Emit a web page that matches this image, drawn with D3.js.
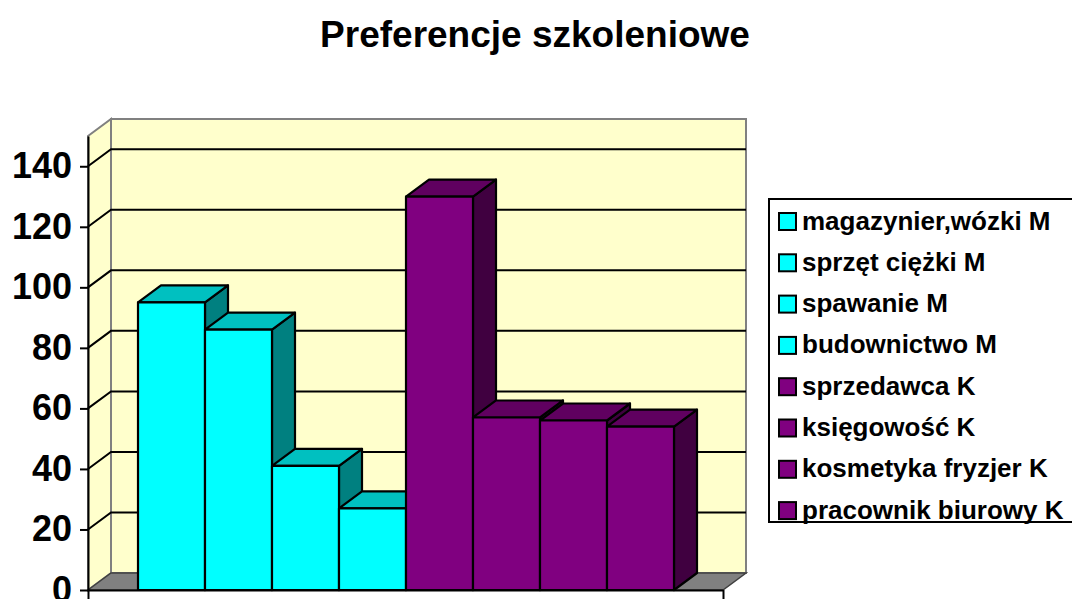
<!DOCTYPE html>
<html>
<head>
<meta charset="utf-8">
<script src="https://cdn.jsdelivr.net/npm/d3@7"></script>
<style>
  body { margin: 0; background: #fff; }
  svg { display: block; font-family: "Liberation Sans", Arial, sans-serif; }
</style>
</head>
<body>
<div class="chart"></div>
<script>
const categories = [
    'magazynier,wózki M', 'sprzęt ciężki M', 'spawanie M', 'budownictwo M',
    'sprzedawca K', 'księgowość K', 'kosmetyka fryzjer K', 'pracownik biurowy K'
];
const values = [95, 86, 41, 27, 130, 57, 56, 54];
const groups = ['M', 'M', 'M', 'M', 'K', 'K', 'K', 'K'];
const yTicks = [0, 20, 40, 60, 80, 100, 120, 140];

const width = 1072;
const height = 599;
const depth = { dx: 23, dy: -17 };   // 3d offset of back wall
const plot = { left: 88, right: 723, bottom: 590, top: 136 };

const palette = {
    M: { front: '#00ffff', top: '#00c0c0', side: '#008080' },
    K: { front: '#800080', top: '#600060', side: '#400040' }
};

const yScale = d3.scaleLinear()
    .domain([0, 150])
    .range([plot.bottom, plot.top]);

const xScale = d3.scaleBand()
    .domain(categories)
    .range([138, 674])
    .padding(0);

const svg = d3.select('.chart')
    .append('svg')
    .attr('width', width)
    .attr('height', height);

// title
svg.append('text')
    .attr('x', 535)
    .attr('y', 47)
    .attr('text-anchor', 'middle')
    .style('font-size', '37px')
    .style('font-weight', 'bold')
    .text('Preferencje szkoleniowe');

const pts = a => a.map(p => p.join(',')).join(' ');

// back wall
svg.append('polygon')
    .attr('points', pts([
        [plot.left + depth.dx, plot.top + depth.dy],
        [plot.right + depth.dx, plot.top + depth.dy],
        [plot.right + depth.dx, plot.bottom + depth.dy],
        [plot.left + depth.dx, plot.bottom + depth.dy]
    ]))
    .attr('fill', '#ffffcc')
    .attr('stroke', '#808080')
    .attr('stroke-width', 2);

// side wall
svg.append('polygon')
    .attr('points', pts([
        [plot.left, plot.top],
        [plot.left + depth.dx, plot.top + depth.dy],
        [plot.left + depth.dx, plot.bottom + depth.dy],
        [plot.left, plot.bottom]
    ]))
    .attr('fill', '#ffffcc')
    .attr('stroke', '#808080')
    .attr('stroke-width', 2);

// floor
svg.append('polygon')
    .attr('points', pts([
        [plot.left, plot.bottom],
        [plot.left + depth.dx, plot.bottom + depth.dy],
        [plot.right + depth.dx, plot.bottom + depth.dy],
        [plot.right, plot.bottom]
    ]))
    .attr('fill', '#808080')
    .attr('stroke', '#404040')
    .attr('stroke-width', 1.5);

// gridlines on side + back wall
const grid = svg.append('g');
yTicks.filter(v => v > 0).forEach(v => {
    const y = yScale(v);
    grid.append('polyline')
        .attr('points', pts([
            [plot.left, y],
            [plot.left + depth.dx, y + depth.dy],
            [plot.right + depth.dx, y + depth.dy]
        ]))
        .attr('fill', 'none')
        .attr('stroke', '#000')
        .attr('stroke-width', 2);
});

// bars, drawn left to right so later fronts hide earlier sides
const bars = svg.selectAll('.bar')
    .data(categories.map((c, i) => ({ name: c, value: values[i], group: groups[i] })))
    .enter()
    .append('g')
    .attr('class', 'bar');

bars.each(function(d) {
    const g = d3.select(this);
    const x0 = xScale(d.name);
    const x1 = x0 + xScale.bandwidth();
    const y0 = yScale(0);
    const y1 = yScale(d.value);
    const c = palette[d.group];
    g.append('polygon')
        .attr('points', pts([[x1, y1], [x1 + depth.dx, y1 + depth.dy], [x1 + depth.dx, y0 + depth.dy], [x1, y0]]))
        .attr('fill', c.side);
    g.append('polygon')
        .attr('points', pts([[x0, y1], [x0 + depth.dx, y1 + depth.dy], [x1 + depth.dx, y1 + depth.dy], [x1, y1]]))
        .attr('fill', c.top);
    g.append('rect')
        .attr('x', x0)
        .attr('y', y1)
        .attr('width', x1 - x0)
        .attr('height', y0 - y1)
        .attr('fill', c.front);
    g.selectAll('polygon, rect')
        .attr('stroke', '#000')
        .attr('stroke-width', 2.2)
        .attr('stroke-linejoin', 'round');
});

// y axis
svg.append('g')
    .attr('transform', `translate(${plot.left},0)`)
    .call(d3.axisLeft(yScale).tickValues(yTicks).tickSize(8).tickSizeOuter(0).tickPadding(8))
    .call(g => g.selectAll('path, line').attr('stroke', '#000').attr('stroke-width', 2))
    .call(g => g.selectAll('text')
        .attr('fill', '#000')
        .style('font-family', '"Liberation Sans", Arial, sans-serif')
        .style('font-size', '36px')
        .style('font-weight', 'bold'));

// category axis
const xAxisScale = d3.scaleLinear().domain([0, 1]).range([plot.left, plot.right]);
svg.append('g')
    .attr('transform', `translate(0,${plot.bottom})`)
    .call(d3.axisBottom(xAxisScale).tickValues([0, 1]).tickFormat('').tickSize(9).tickSizeOuter(0))
    .call(g => g.selectAll('path, line').attr('stroke', '#000').attr('stroke-width', 2));

// legend
const legend = svg.append('g');
legend.append('rect')
    .attr('x', 769)
    .attr('y', 199)
    .attr('width', 320)
    .attr('height', 323)
    .attr('fill', '#fff')
    .attr('stroke', '#000')
    .attr('stroke-width', 2);

const item = legend.selectAll('.item')
    .data(categories)
    .enter()
    .append('g')
    .attr('class', 'item')
    .attr('transform', (d, i) => `translate(0,${i * 41.3})`);

item.append('rect')
    .attr('x', 779)
    .attr('y', 213)
    .attr('width', 17)
    .attr('height', 17)
    .attr('fill', (d, i) => palette[groups[i]].front)
    .attr('stroke', '#000')
    .attr('stroke-width', 2);

item.append('text')
    .attr('x', 802)
    .attr('y', 229.5)
    .style('font-size', '26px')
    .style('font-weight', 'bold')
    .text(d => d);
</script>
</body>
</html>
